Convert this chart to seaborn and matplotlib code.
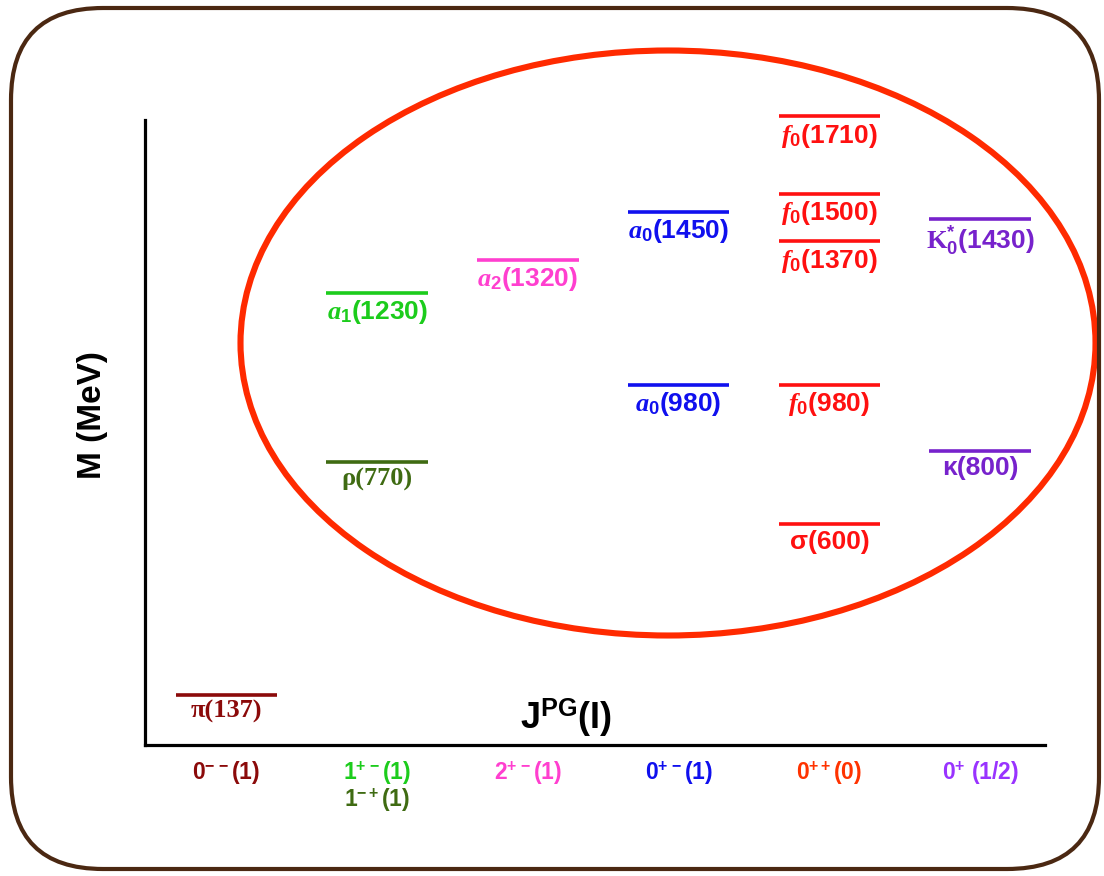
import matplotlib
matplotlib.use("Agg")
import matplotlib.pyplot as plt
import matplotlib.transforms as mtransforms
from matplotlib.patches import Ellipse, FancyBboxPatch
import pandas as pd
import seaborn as sns

# ---- data -------------------------------------------------------------
states = ["pi", "rho", "a1", "a2", "a0_1450", "a0_980",
          "f0_1710", "f0_1500", "f0_1370", "f0_980", "sigma",
          "K0star", "kappa"]
state_labels = ["π(137)", "ρ(770)", r"$a_1$(1230)", r"$a_2$(1320)",
                r"$a_0$(1450)", r"$a_0$(980)", r"$f_0$(1710)",
                r"$f_0$(1500)", r"$f_0$(1370)", r"$f_0$(980)", "σ(600)",
                r"$\mathsf{K}_0^{*}$(1430)", "κ(800)"]
masses = [137, 770, 1230, 1320, 1450, 980, 1710, 1500, 1370, 980, 600,
          1430, 800]
columns = [0, 1, 1, 2, 3, 3, 4, 4, 4, 4, 4, 5, 5]

categories = [r"0$^{-\,-}$(1)", r"1$^{+\,-}$(1)", r"2$^{+\,-}$(1)",
              r"0$^{+\,-}$(1)", r"0$^{++}$(0)", r"0$^{+}$ (1/2)"]
second_category = r"1$^{-+}$(1)"

# ---- styling ----------------------------------------------------------
state_colors = {
    "pi": "#8b0a0a", "rho": "#3f6b12", "a1": "#1ccc1c", "a2": "#ff3fcf",
    "a0_1450": "#1010ee", "a0_980": "#1010ee",
    "f0_1710": "#ff1010", "f0_1500": "#ff1010", "f0_1370": "#ff1010",
    "f0_980": "#ff1010", "sigma": "#ff1010",
    "K0star": "#7722cc", "kappa": "#7722cc",
}
serif_states = {"pi", "rho"}
category_colors = ["#8b0a0a", "#1ccc1c", "#ff3fcf", "#1010ee", "#ff3300",
                   "#9933ff"]
second_category_color = "#3f6b12"

sns.set_theme(style="white")
plt.rcParams["font.family"] = ["Liberation Sans", "DejaVu Sans"]
plt.rcParams["font.weight"] = "bold"
plt.rcParams["mathtext.fontset"] = "custom"
plt.rcParams["mathtext.rm"] = "Liberation Sans:bold"
plt.rcParams["mathtext.bf"] = "Liberation Sans:bold"
plt.rcParams["mathtext.it"] = "Liberation Serif:italic"
plt.rcParams["mathtext.sf"] = "Liberation Serif"

W, H = 1104, 876
fig = plt.figure(figsize=(W / 100, H / 100), dpi=100)
fig.patch.set_facecolor("white")

# axes box in pixels: x 145..1045, y 120..745 (from top)
ax = fig.add_axes([145 / W, (H - 745) / H, 900 / W, 625 / H])
ax.set_facecolor("white")

df = pd.DataFrame({"state": states, "mass": masses, "column": columns})

sns.scatterplot(data=df, x="column", y="mass", hue="state",
                palette=state_colors, marker="_", s=73 ** 2,
                linewidth=2.6, legend=False, ax=ax, clip_on=False,
                zorder=3)

ax.set_xlim(-0.54, 5.43)
ax.set_ylim(0, 1700)
ax.set_xticks([])
ax.set_yticks([])
ax.set_xlabel("")
ax.set_ylabel("")
for side in ("top", "right"):
    ax.spines[side].set_visible(False)
for side in ("left", "bottom"):
    ax.spines[side].set_color("black")
    ax.spines[side].set_linewidth(2.3)

# state names under each level
for st, lab, m, c in zip(states, state_labels, masses, columns):
    fam = ["Liberation Serif", "DejaVu Serif"] if st in serif_states \
        else ["Liberation Sans", "DejaVu Sans"]
    ax.annotate(lab, xy=(c, m), xytext=(0, -4), textcoords="offset points",
                ha="center", va="top", fontsize=19, fontweight="bold",
                family=fam, color=state_colors[st], annotation_clip=False)

# quantum-number labels under the axis
xt = ax.get_xaxis_transform()
for i, (cat, col) in enumerate(zip(categories, category_colors)):
    ax.text(i, -0.022, cat, transform=xt, ha="center", va="top",
            fontsize=16.5, fontweight="bold", color=col)
ax.text(1, -0.066, second_category, transform=xt, ha="center", va="top",
        fontsize=16.5, fontweight="bold", color=second_category_color)

# axis titles
fig.text(93 / W, 1 - 415 / H, "M (MeV)", rotation=90, ha="center",
         va="center", fontsize=24, fontweight="bold", color="black")
fig.text(566 / W, 1 - 718 / H, r"J$^{\mathrm{PG}}$(I)", ha="center",
         va="center", fontsize=26, fontweight="bold", color="black")

# highlight ellipse
ell = Ellipse((668 / W, 1 - 343 / H), 855 / W, 585 / H, fill=False,
              edgecolor="#ff2a00", linewidth=4.4,
              transform=fig.transFigure, zorder=5)
fig.add_artist(ell)

# rounded frame
frame = FancyBboxPatch((11, 7), 1088, 861,
                       boxstyle="round,pad=0,rounding_size=92",
                       fill=False, edgecolor="#4b2812", linewidth=3.0,
                       transform=mtransforms.IdentityTransform(), zorder=6)
fig.add_artist(frame)

fig.savefig("out.png", dpi=100)
